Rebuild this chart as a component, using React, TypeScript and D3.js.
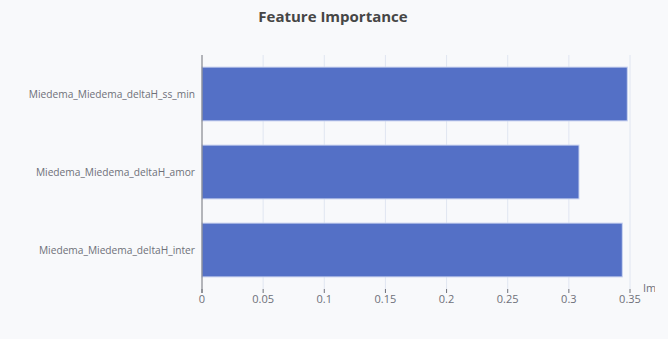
import React from "react";
import * as d3 from "d3";

const features = [
  "Miedema_Miedema_deltaH_ss_min",
  "Miedema_Miedema_deltaH_amor",
  "Miedema_Miedema_deltaH_inter",
];
const importance = [0.3478, 0.3083, 0.3437];
const xTicks = [0, 0.05, 0.1, 0.15, 0.2, 0.25, 0.3, 0.35];
const title = "Feature Importance";
const axisName = "Importance";

export default function App() {
  const W = 668, H = 339;
  const left = 202, right = 630, top = 55, bottom = 289;
  const x = d3.scaleLinear().domain([0, 0.35]).range([left, right]);
  const y = d3.scaleBand<string>().domain(features).range([top, bottom]).paddingInner(0.31).paddingOuter(0.155);
  const font = "'Open Sans', 'Noto Sans', sans-serif";
  return (
    <div style={{ position: "fixed", left: 0, top: 0, width: W, height: H, background: "#f8f9fb" }}>
      <svg width={W} height={H} style={{ display: "block" }} fontFamily={font}>
        <defs>
          <clipPath id="clip"><rect x={0} y={0} width={655} height={H} /></clipPath>
        </defs>
        <rect width={W} height={H} fill="#f8f9fb" />
        <text x={333} y={22} textAnchor="middle" fontSize={15} fontWeight="bold" fill="#464646">{title}</text>
        {xTicks.map((t) => (
          <g key={t}>
            {t !== 0 && <line x1={x(t)} x2={x(t)} y1={top} y2={bottom} stroke="#e0e6f1" />}
            <line x1={x(t)} x2={x(t)} y1={bottom} y2={bottom + 4} stroke="#6e7079" />
            <text x={x(t)} y={bottom + 14} textAnchor="middle" fontSize={11} fill="#6e7079">{String(t)}</text>
          </g>
        ))}
        {features.map((f, i) => (
          <g key={f}>
            <rect x={x(0)} y={y(f)!} width={x(importance[i]) - x(0)} height={y.bandwidth()} fill="#5470c6" stroke="#c9d3f0" strokeWidth={1} />
            <text x={195} y={y(f)! + y.bandwidth() / 2} dy="0.35em" textAnchor="end" fontSize={10.2} fill="#6e7079">{f}</text>
          </g>
        ))}
        <line x1={left} x2={left} y1={top} y2={bottom + 4} stroke="#6e7079" />
        <g clipPath="url(#clip)">
          <text x={643} y={bottom - 1} dy="0.35em" fontSize={11} fill="#6e7079">{axisName}</text>
        </g>
      </svg>
    </div>
  );
}
